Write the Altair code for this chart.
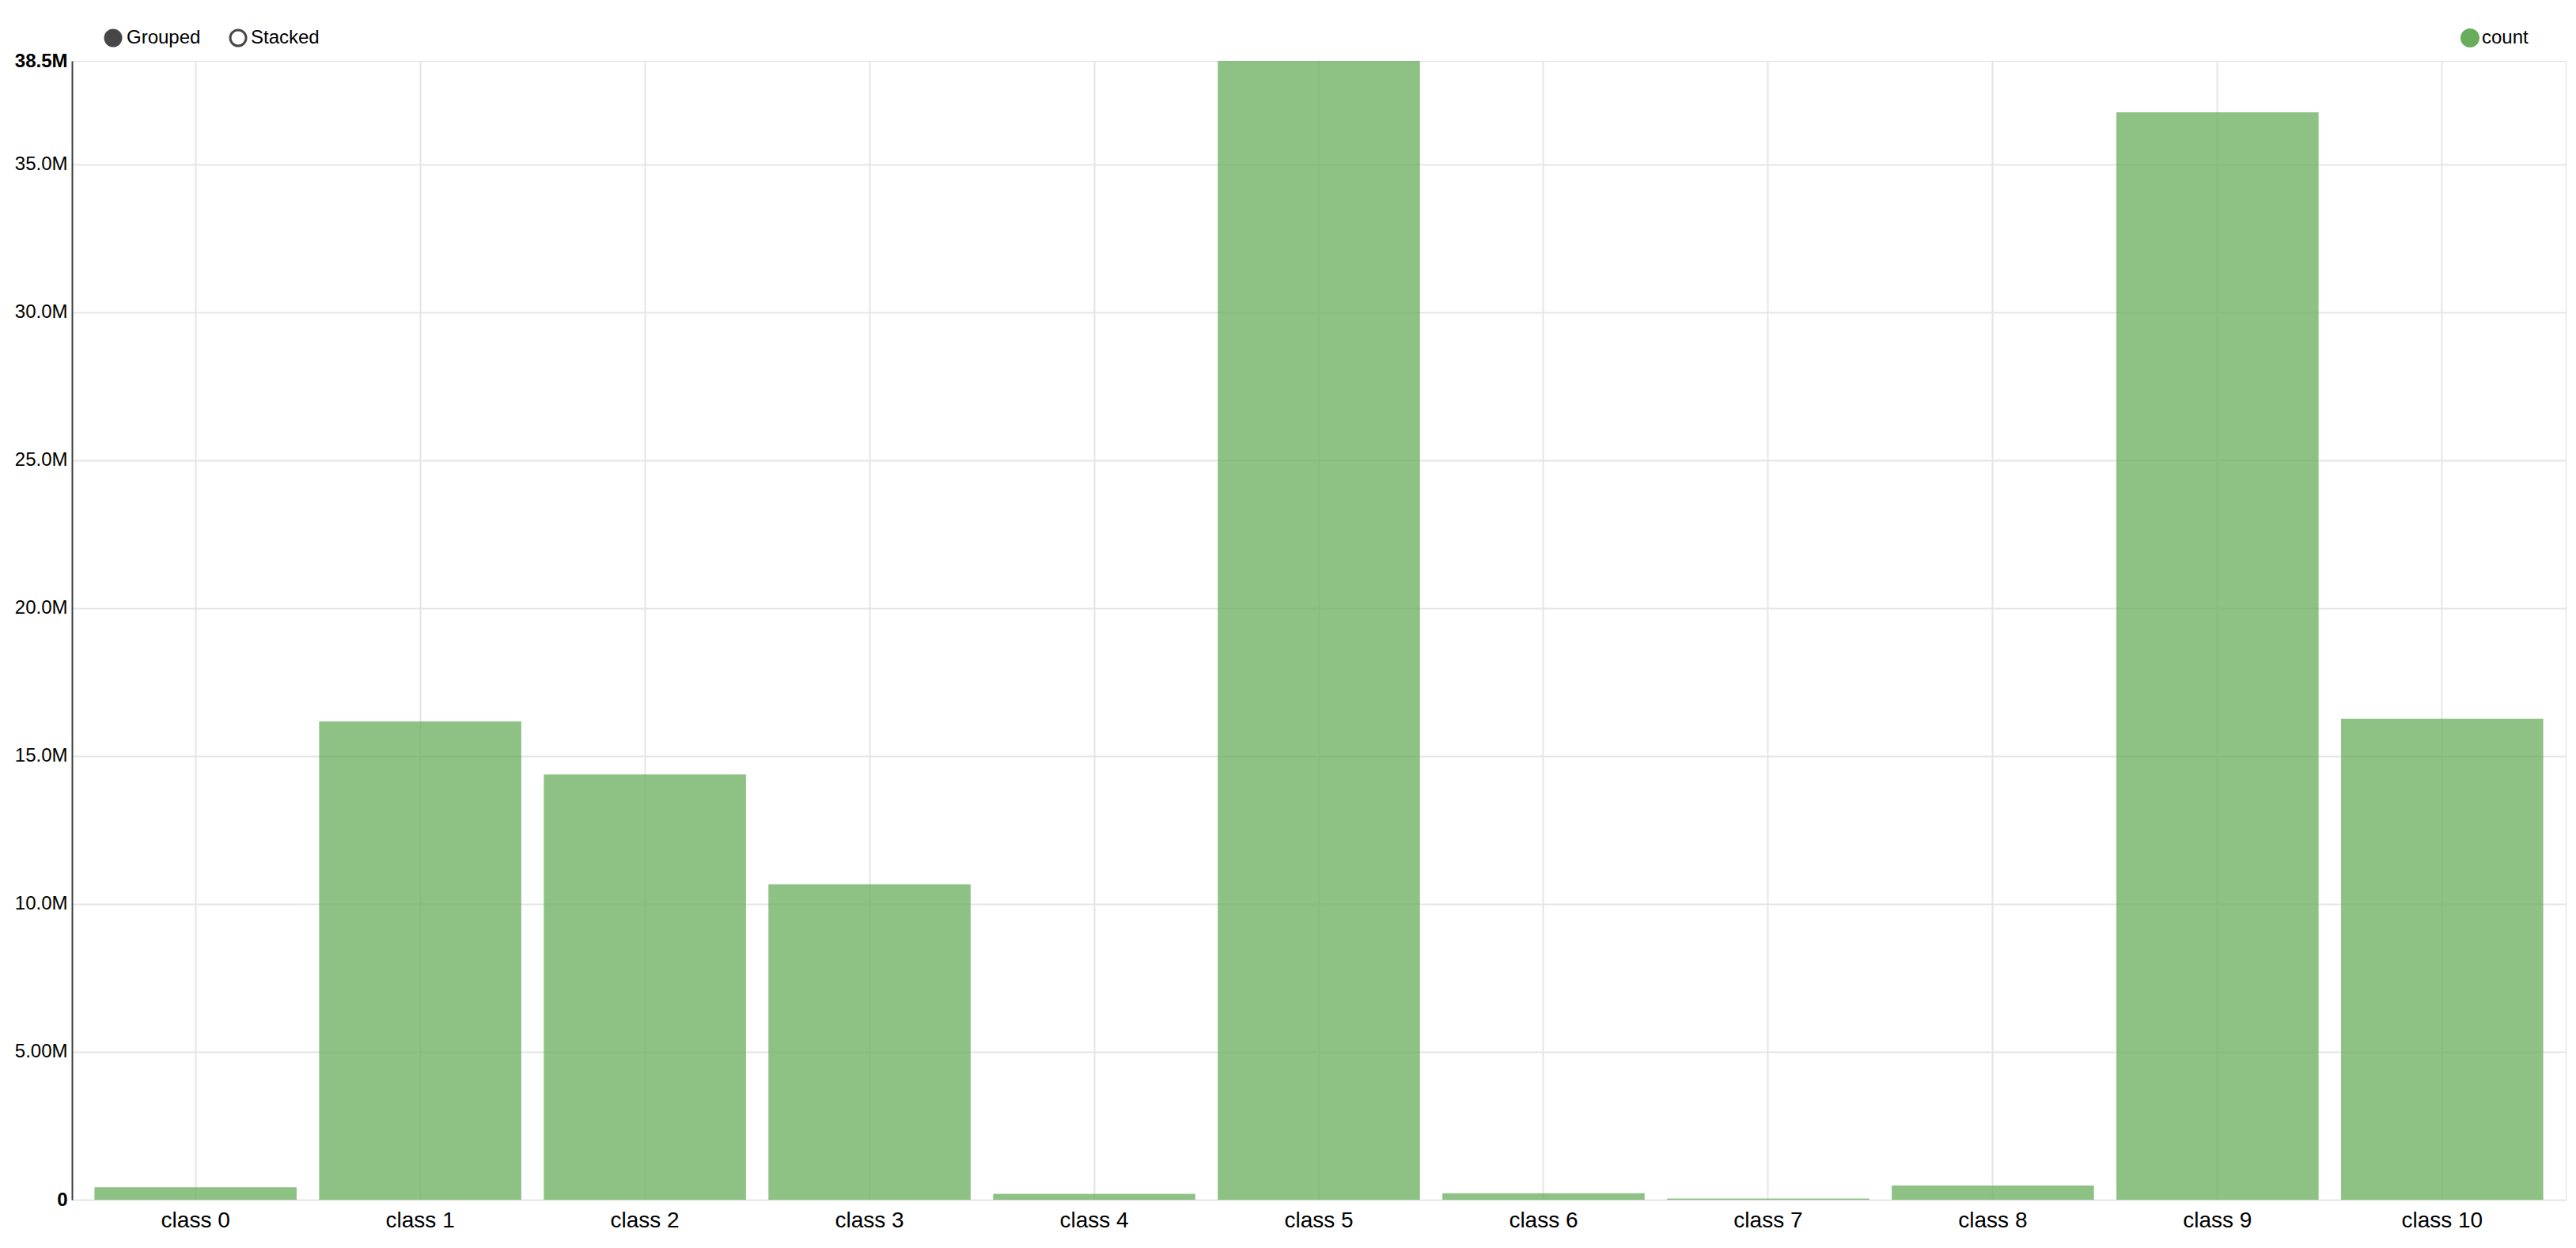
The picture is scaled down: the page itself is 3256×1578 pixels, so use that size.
import altair as alt
import pandas as pd

# ---- data ----
categories = ["class 0", "class 1", "class 2", "class 3", "class 4", "class 5",
              "class 6", "class 7", "class 8", "class 9", "class 10"]
counts = [0.42e6, 16.17e6, 14.38e6, 10.66e6, 0.20e6, 38.5e6,
          0.22e6, 0.04e6, 0.48e6, 36.76e6, 16.26e6]
y_ticks = [0, 5e6, 10e6, 15e6, 20e6, 25e6, 30e6, 35e6, 38.5e6]
y_max = 38.5e6
series_name = "count"
toggle_labels = ["Grouped", "Stacked"]

FONT = "Liberation Sans"
BAR_COLOR = "#68ad5c"

df = pd.DataFrame({"category": categories, "count": counts})

bars = alt.Chart(df).mark_bar(color=BAR_COLOR, opacity=0.75).encode(
    x=alt.X(
        "category:N", sort=categories, title=None,
        scale=alt.Scale(paddingInner=0.1, paddingOuter=0.1),
        axis=alt.Axis(
            labelFontSize=28, labelColor="#000", labelFont=FONT, labelAngle=0,
            ticks=False, tickSize=0, domain=False, grid=True,
            gridColor="#e5e5e5", gridWidth=2, bandPosition=0.5, labelPadding=12,
        ),
    ),
    y=alt.Y(
        "count:Q", title=None,
        scale=alt.Scale(domain=[0, y_max], nice=False, zero=True),
        axis=alt.Axis(
            values=y_ticks,
            labelExpr="datum.value == 0 ? '0' : format(datum.value, '.3s')",
            labelFontSize=24, labelColor="#000", labelFont=FONT,
            labelFontWeight=alt.condition("datum.value == 0 || datum.value >= 38500000",
                                          alt.value("bold"), alt.value("normal")),
            labelFlush=False, labelPadding=6, labelOverlap=False,
            ticks=False, tickSize=0,
            domain=True, domainColor="#404040", domainWidth=2,
            grid=True, gridColor="#e5e5e5", gridWidth=2,
            gridOpacity=alt.condition("datum.value >= 38500000", alt.value(0), alt.value(1)),
        ),
    ),
)

# ---- legend / controls ----
one = pd.DataFrame({"t": [series_name]})
g_df = pd.DataFrame({"t": [toggle_labels[0]]})
s_df = pd.DataFrame({"t": [toggle_labels[1]]})

grouped_dot = alt.Chart(g_df).mark_point(
    shape="circle", filled=True, size=529, color="#474747", opacity=1
).encode(x=alt.value(52), y=alt.value(-29))
grouped_txt = alt.Chart(g_df).mark_text(
    align="left", baseline="middle", fontSize=24, font=FONT, color="#000"
).encode(text="t:N", x=alt.value(69), y=alt.value(-29))

stacked_dot = alt.Chart(s_df).mark_point(
    shape="circle", filled=False, size=400, color="#474747", strokeWidth=3, opacity=1
).encode(x=alt.value(210), y=alt.value(-29))
stacked_txt = alt.Chart(s_df).mark_text(
    align="left", baseline="middle", fontSize=24, font=FONT, color="#000"
).encode(text="t:N", x=alt.value(226), y=alt.value(-29))

count_dot = alt.Chart(one).mark_point(
    shape="circle", filled=True, size=576, color=BAR_COLOR, opacity=1
).encode(x=alt.value(3031), y=alt.value(-29))
count_txt = alt.Chart(one).mark_text(
    align="left", baseline="middle", fontSize=24, font=FONT, color="#000"
).encode(text="t:N", x=alt.value(3046), y=alt.value(-29))

chart = alt.layer(
    bars, grouped_dot, grouped_txt, stacked_dot, stacked_txt, count_dot, count_txt
).properties(
    width=3152, height=1440,
    autosize=alt.AutoSizeParams(type="none"),
    padding={"left": 83, "top": 69, "right": 4, "bottom": 50},
    background="white",
).configure_view(stroke=None).configure(font=FONT)

chart.save("out.html", embed_options={"renderer": "svg", "actions": False})
